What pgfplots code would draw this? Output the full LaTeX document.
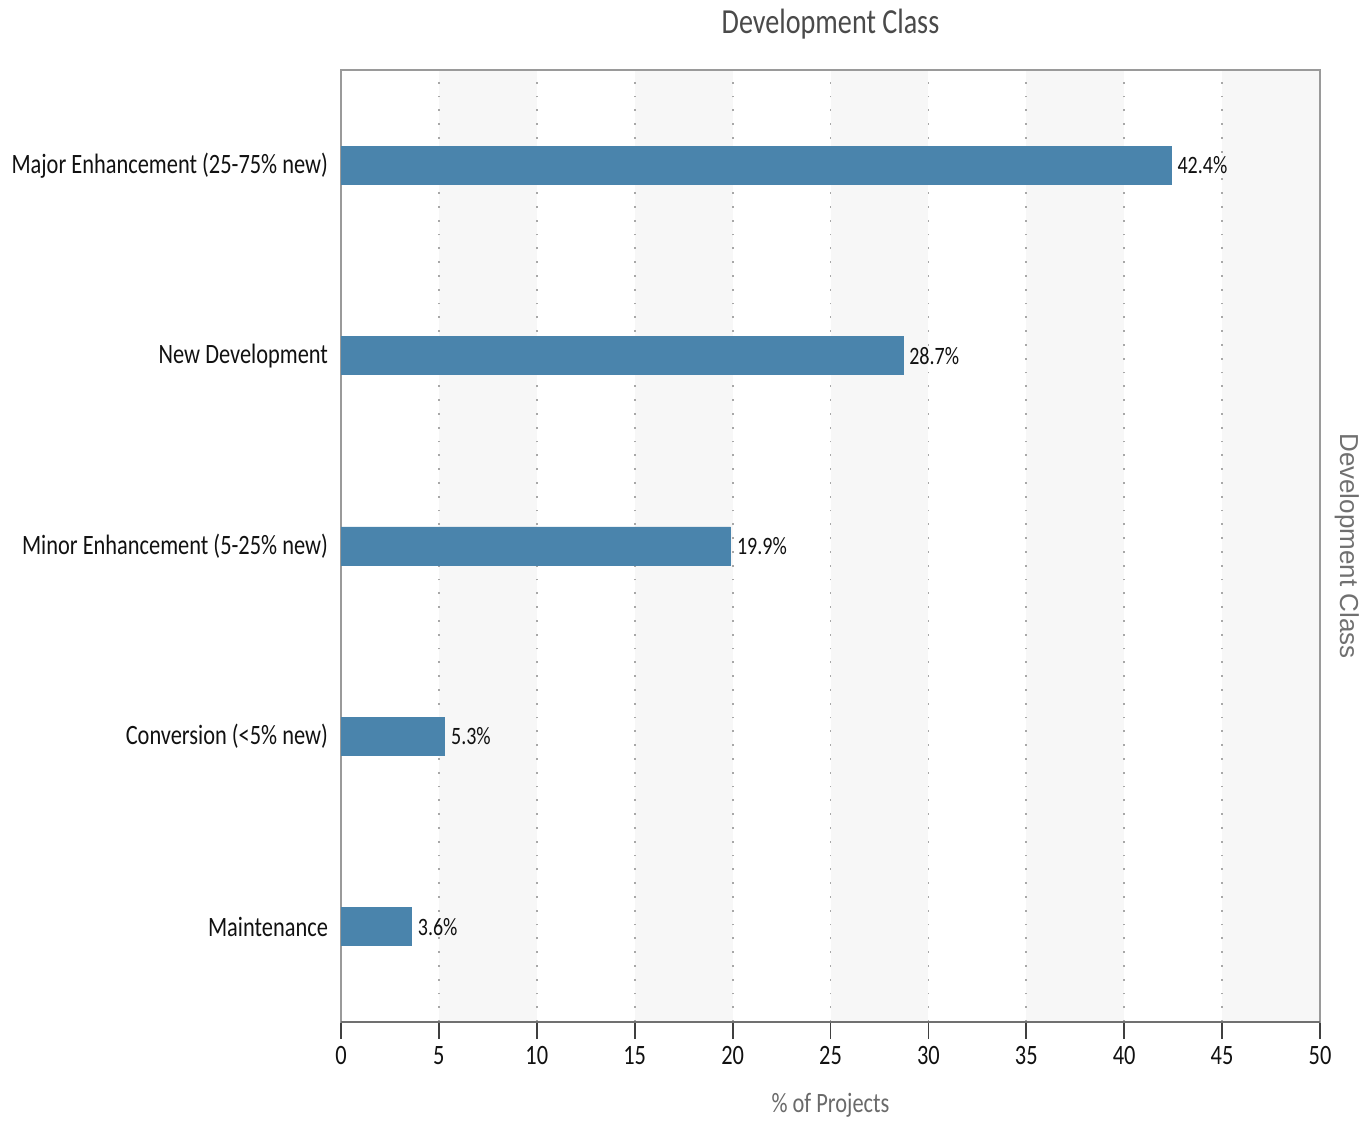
\documentclass[border=0pt]{standalone}
\usepackage{pgfplots}
\pgfplotsset{compat=1.18}
\usepackage{fontspec}
\setmainfont[FakeStretch=0.8]{Carlito}
\newfontfamily\arialf{Liberation Sans}
\definecolor{barblue}{HTML}{4A84AC}
\definecolor{band}{HTML}{F7F7F7}
\definecolor{framegray}{HTML}{9A9A9A}
\definecolor{darkline}{HTML}{707070}
\definecolor{tickgray}{HTML}{404040}
\definecolor{gridgray}{HTML}{A8A8A8}
\definecolor{labelblack}{HTML}{111111}
\definecolor{titlegray}{HTML}{4A4A4A}
\definecolor{xlabgray}{HTML}{6A6A6A}
\definecolor{sidegray}{HTML}{707070}
\begin{document}
\begin{tikzpicture}
\begin{axis}[
  at={(170.5pt,50pt)}, anchor=south west,
  scale only axis, width=489.5pt, height=476pt,
  set layers, clip=false,
  xbar, bar width=19pt,
  xmin=0, xmax=50, ymin=-0.5, ymax=4.5,
  xtick={0,5,...,50},
  ytick={0,1,2,3,4},
  yticklabels={Maintenance, Conversion (<5\% new), Minor Enhancement (5-25\% new), New Development, Major Enhancement (25-75\% new)},
  /pgf/number format/assume math mode=true,
  ticklabel style={font=\fontsize{14}{16}\selectfont, text=labelblack},
  yticklabel style={xshift=5.5pt},
  axis line style={draw=framegray, line width=0.8pt},
  xtick pos=bottom, ytick pos=left,
  tick align=outside,
  major tick length=8.5pt,
  xtick style={draw=tickgray, line width=0.9pt},
  ytick style={draw=none},
  xmajorgrids,
  grid style={draw=gridgray, line width=0.9pt, dash pattern=on 0.9pt off 6pt},
  point meta=x,
  nodes near coords={\pgfmathprintnumber[fixed,fixed zerofill,precision=1]{\pgfplotspointmeta}\%},
  nodes near coords style={font=\fontsize{12.5}{14}\selectfont, text=labelblack, anchor=west, inner sep=3pt},
]
\begin{pgfonlayer}{axis background}
\fill[band] (axis cs:5,-0.5) rectangle (axis cs:10,4.5);
\fill[band] (axis cs:15,-0.5) rectangle (axis cs:20,4.5);
\fill[band] (axis cs:25,-0.5) rectangle (axis cs:30,4.5);
\fill[band] (axis cs:35,-0.5) rectangle (axis cs:40,4.5);
\fill[band] (axis cs:45,-0.5) rectangle (axis cs:50,4.5);
\end{pgfonlayer}
\addplot[fill=barblue, draw=barblue] coordinates {
  (3.6,0) (5.3,1) (19.9,2) (28.7,3) (42.4,4)
};
\draw[darkline, line width=1pt] (rel axis cs:0,0) -- (rel axis cs:1,0);
\node[anchor=base, font=\fontsize{17.6}{19}\selectfont, text=titlegray] at ([yshift=18pt]rel axis cs:0.5,1) {Development Class};
\node[anchor=base, font=\fontsize{14}{16}\selectfont, text=xlabgray] at ([yshift=-45.5pt]rel axis cs:0.5,0) {\% of Projects};
\node[anchor=base, rotate=-90, font=\arialf\fontsize{13}{15}\selectfont, text=sidegray] at ([xshift=10pt]rel axis cs:1,0.5) {Development Class};
\end{axis}
\pgfresetboundingbox
\path[use as bounding box] (0,0) rectangle (685.5pt,561pt);
\end{tikzpicture}
\end{document}
